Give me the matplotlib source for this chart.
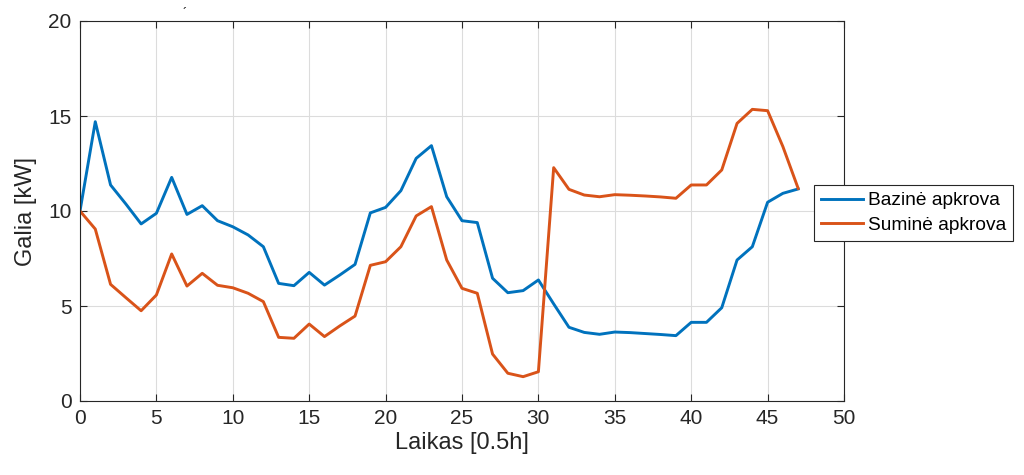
import numpy as np
import matplotlib.pyplot as plt

plt.rcParams['font.family'] = ['Liberation Sans', 'DejaVu Sans']

# laiko intervalai (0.5 h)
laikas = list(range(48))

bazine = [10.0, 14.7, 11.37, 10.37, 9.32, 9.88, 11.77, 9.82, 10.28, 9.49,
          9.17, 8.74, 8.12, 6.19, 6.07, 6.77, 6.10, 6.63, 7.19, 9.90,
          10.19, 11.07, 12.77, 13.44, 10.75, 9.49, 9.39, 6.46, 5.70, 5.81,
          6.37, 5.11, 3.88, 3.61, 3.51, 3.63, 3.60, 3.55, 3.50, 3.44,
          4.14, 4.14, 4.91, 7.42, 8.12, 10.46, 10.93, 11.16]

sumine = [10.0, 9.05, 6.14, 5.44, 4.75, 5.58, 7.74, 6.05, 6.72, 6.09,
          5.96, 5.67, 5.23, 3.35, 3.30, 4.05, 3.39, 3.95, 4.47, 7.14,
          7.33, 8.12, 9.74, 10.23, 7.42, 5.93, 5.67, 2.47, 1.46, 1.28,
          1.54, 12.28, 11.14, 10.84, 10.75, 10.86, 10.83, 10.79, 10.74, 10.67,
          11.37, 11.37, 12.16, 14.61, 15.35, 15.28, 13.39, 11.19]

fig = plt.figure(figsize=(10.24, 4.75), dpi=100)
ax = fig.add_axes([80/1024, 1-401/475, 764/1024, 380/475])

ax.plot(laikas, bazine, color='#0072BD', lw=2.1, label='Bazinė apkrova')
ax.plot(laikas, sumine, color='#D95319', lw=2.1, label='Suminė apkrova')

ax.set_xlim(0, 50)
ax.set_ylim(0, 20)
ax.set_xticks(np.arange(0, 51, 5))
ax.set_yticks(np.arange(0, 21, 5))
ax.grid(True, color='#dcdcdc', lw=0.8)
ax.set_axisbelow(True)
for s in ax.spines.values():
    s.set_color('#262626')
    s.set_linewidth(0.8)
ax.tick_params(direction='in', top=True, right=True, labelsize=15,
               colors='#262626', length=5, pad=6)

ax.set_xlabel('Laikas [0.5h]', fontsize=17, color='#262626', labelpad=3)
ax.set_ylabel('Galia [kW]', fontsize=17, color='#262626', labelpad=8)

leg = ax.legend(loc='center left', bbox_to_anchor=(0.961, 0.495), fontsize=13.8,
                frameon=True, fancybox=False, edgecolor='#262626',
                handlelength=2.2, borderaxespad=0, borderpad=0.35,
                labelspacing=0.38, handletextpad=0.25)
leg.get_frame().set_linewidth(0.8)
leg.get_frame().set_alpha(1)

fig.text(185/1024, 1-14/475, '´', fontsize=9, ha='center', va='center')

fig.savefig('out.png', dpi=100)
